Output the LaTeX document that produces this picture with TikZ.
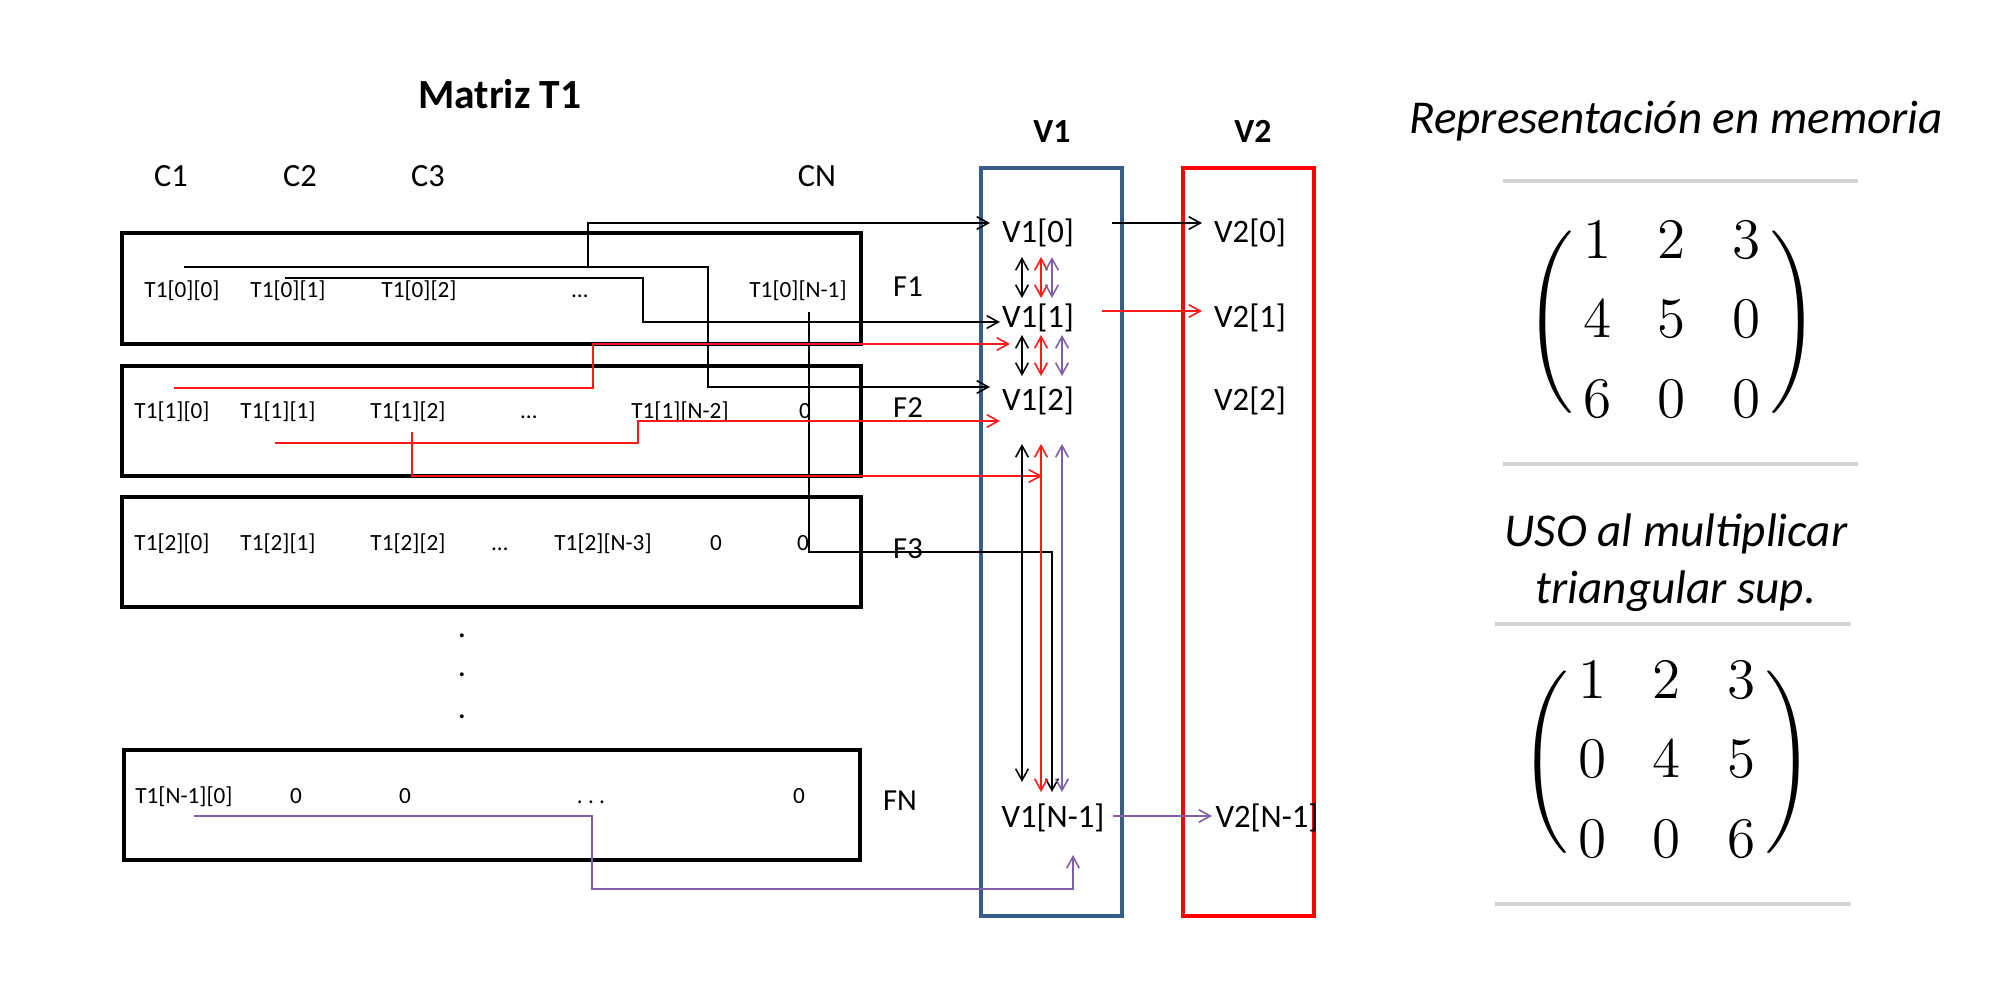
\RequirePackage{fix-cm}
\documentclass[tikz,border=0pt]{standalone}
\usepackage{amsmath}
\usepackage{fontspec}
\newfontfamily\carl{Carlito}
\usetikzlibrary{arrows.meta}
\definecolor{vblue}{HTML}{385D8A}
\definecolor{vred}{HTML}{FF0000}
\definecolor{lred}{HTML}{FF1A1A}
\definecolor{vpurple}{HTML}{7F5FA8}
\definecolor{rulegray}{HTML}{D4D4D4}

\begin{document}
\begin{tikzpicture}[x=0.01cm,y=-0.01cm,
  >={Straight Barb[length=3.3pt,width=3.6pt]},
  lbl/.style={inner sep=0pt, anchor=base, font=\carl\fontsize{#1}{#1}\selectfont},
  bold/.style={inner sep=0pt, anchor=base, font=\carl\bfseries\fontsize{#1}{#1}\selectfont},
  ital/.style={inner sep=0pt, font=\carl\itshape\fontsize{13.4}{16.2}\selectfont},
  cell/.style={lbl=6.6},
  collbl/.style={lbl=9.2},
  rowlbl/.style={lbl=8.7},
  vec/.style={lbl=9.3},
  rowbox/.style={draw=black, line width=1.1pt},
  conn/.style={line width=0.45pt},
  sep/.style={draw=rulegray, line width=0.9pt},
  mat/.style={inner sep=0pt, font=\fontsize{16.3}{22.7}\selectfont}
]
\useasboundingbox (0,0) rectangle (2000,1000);

% ---------- matrix T1 ----------
\node[bold=11.8] (title) at (500,108) {Matriz T1};
\node[collbl] (c1) at (171,186) {C1};
\node[collbl] (c2) at (300,186) {C2};
\node[collbl] (c3) at (428,186) {C3};
\node[collbl] (cn) at (817,186) {CN};

\draw[rowbox] (122,233) rectangle (861,344);
\draw[rowbox] (122,366) rectangle (861,476);
\draw[rowbox] (122,497) rectangle (861,607);
\draw[rowbox] (124,750) rectangle (860,860);

% row 0
\node[cell] (t00) at (182,297) {T1[0][0]};
\node[cell] (t01) at (288,297) {T1[0][1]};
\node[cell] (t02) at (419,297) {T1[0][2]};
\node[cell] (t0d) at (580,297) {…};
\node[cell] (t0n) at (798,297) {T1[0][N-1]};
% row 1
\node[cell] (t10) at (172,418) {T1[1][0]};
\node[cell] (t11) at (278,418) {T1[1][1]};
\node[cell] (t12) at (408,418) {T1[1][2]};
\node[cell] (t1d) at (529,418) {…};
\node[cell] (t1m) at (680,418) {T1[1][N-2]};
\node[cell] (t1n) at (805,418) {0};
% row 2
\node[cell] (t20) at (172,550) {T1[2][0]};
\node[cell] (t21) at (278,550) {T1[2][1]};
\node[cell] (t22) at (408,550) {T1[2][2]};
\node[cell] (t2d) at (500,550) {…};
\node[cell] (t2m) at (603,550) {T1[2][N-3]};
\node[cell] (t2a) at (716,550) {0};
\node[cell] (t2n) at (803,550) {0};
% last row
\node[cell] (tn0) at (184,803) {T1[N-1][0]};
\node[cell] (tn1) at (296,803) {0};
\node[cell] (tn2) at (405,803) {0};
\node[cell] (tnd) at (591,803) {.~.~.};
\node[cell] (tnn) at (799,803) {0};

% vertical ellipsis between rows
\node[collbl] (d1) at (462,637) {.};
\node[collbl] (d2) at (462,676) {.};
\node[collbl] (d3) at (462,718) {.};

% row labels
\node[rowlbl] (f1) at (908,296) {F1};
\node[rowlbl] (f2) at (908,417) {F2};
\node[rowlbl] (f3) at (908,558) {F3};
\node[rowlbl] (fn) at (900,810) {FN};

% ---------- vectors ----------
\node[bold=9.6] (lv1) at (1052,142) {V1};
\node[bold=9.6] (lv2) at (1253,142) {V2};
\draw[draw=vblue, line width=0.9pt] (981,168) rectangle (1122,916);
\draw[draw=vred, line width=1.1pt] (1183,168) rectangle (1314,916);

\node[vec] (v10) at (1038,242) {V1[0]};
\node[vec] (v11) at (1038,327) {V1[1]};
\node[vec] (v12) at (1038,410) {V1[2]};
\node[vec] (v1n) at (1053,827) {V1[N-1]};
\node[vec] (v20) at (1250,242) {V2[0]};
\node[vec] (v21) at (1250,327) {V2[1]};
\node[vec] (v22) at (1250,410) {V2[2]};
\node[vec] (v2n) at (1267,827) {V2[N-1]};

% ---------- connector end points ----------
\coordinate (s00) at (184,267);
\coordinate (s01) at (285,278);
\coordinate (s0n) at (809,312);
\coordinate (s10) at (174,388);
\coordinate (s11) at (275,443);
\coordinate (s12) at (412,432);
\coordinate (sn0) at (194,816);

\coordinate (j0) at (588,267);
\coordinate (b1) at (643,322);
\coordinate (b2) at (708,387);
\coordinate (b3) at (1052,552);
\coordinate (b4) at (593,344);
\coordinate (b5) at (638,421);
\coordinate (b7) at (592,889);

\coordinate (e0) at (990,223);
\coordinate (e1) at (1000,322);
\coordinate (e1r) at (1010,344);
\coordinate (e2) at (990,387);
\coordinate (e2r) at (1000,421);
\coordinate (e3r) at (1042,476);
\coordinate (en) at (1052,792);
\coordinate (enp) at (1073,855);

\coordinate (o0) at (1112,223);
\coordinate (i0) at (1202,223);
\coordinate (o1) at (1102,311);
\coordinate (i1) at (1202,311);
\coordinate (on) at (1113,816);
\coordinate (in) at (1212,816);

% black paths
\draw[conn,->] (j0) |- (e0);
\draw[conn,->] (s00) -| (b2) -- (e2);
\draw[conn,->] (s01) -| (b1) -- (e1);
\draw[conn,->] (s0n) |- (b3) -- (en);
% red paths
\draw[conn,lred,->] (s10) -| (b4) -- (e1r);
\draw[conn,lred,->] (s11) -| (b5) -- (e2r);
\draw[conn,lred,->] (s12) |- (e3r);
% purple path
\draw[conn,vpurple,->] (sn0) -| (b7) -| (enp);

% V1 -> V2
\draw[conn,->] (o0) -- (i0);
\draw[conn,lred,->] (o1) -- (i1);
\draw[conn,vpurple,->] (on) -- (in);

% double arrows inside V1
\coordinate (colk) at (1022,0);
\coordinate (colr) at (1041,0);
\coordinate (colp0) at (1052,0);
\coordinate (colp) at (1062,0);
\coordinate (g0a) at (0,257);
\coordinate (g0b) at (0,298);
\coordinate (g1a) at (0,335);
\coordinate (g1b) at (0,376);
\coordinate (g2a) at (0,444);
\coordinate (g2b) at (0,782);
\coordinate (g2c) at (0,792);
\draw[conn,<->] (colk |- g0a) -- (colk |- g0b);
\draw[conn,lred,<->] (colr |- g0a) -- (colr |- g0b);
\draw[conn,vpurple,<->] (colp0 |- g0a) -- (colp0 |- g0b);
\draw[conn,<->] (colk |- g1a) -- (colk |- g1b);
\draw[conn,lred,<->] (colr |- g1a) -- (colr |- g1b);
\draw[conn,vpurple,<->] (colp |- g1a) -- (colp |- g1b);
\draw[conn,<->] (colk |- g2a) -- (colk |- g2b);
\draw[conn,lred,<->] (colr |- g2a) -- (colr |- g2c);
\draw[conn,vpurple,<->] (colp |- g2a) -- (colp |- g2c);

% ---------- storage panel ----------
\node[ital, anchor=base] (rep) at (1676,133) {Representación en memoria};
\draw[sep] (1503,181) -- (1858,181);
\node[mat] (m1) at (1672,322) {\delimitershortfall=17pt\delimiterfactor=700\setlength{\arraycolsep}{6.6pt}%
  $\left(\begin{array}{@{\hspace{2.8pt}}ccc@{\hspace{2.8pt}}}1&2&3\\4&5&0\\6&0&0\end{array}\right)$};
\draw[sep] (1503,464) -- (1858,464);

\node[ital, align=center] (uso) at (1676,563) {USO al multiplicar\\triangular sup.};
\draw[sep] (1495,624) -- (1851,624);
\node[mat] (m2) at (1667,762) {\delimitershortfall=17pt\delimiterfactor=700\setlength{\arraycolsep}{6.6pt}%
  $\left(\begin{array}{@{\hspace{2.8pt}}ccc@{\hspace{2.8pt}}}1&2&3\\0&4&5\\0&0&6\end{array}\right)$};
\draw[sep] (1495,904) -- (1851,904);
\end{tikzpicture}
\end{document}
